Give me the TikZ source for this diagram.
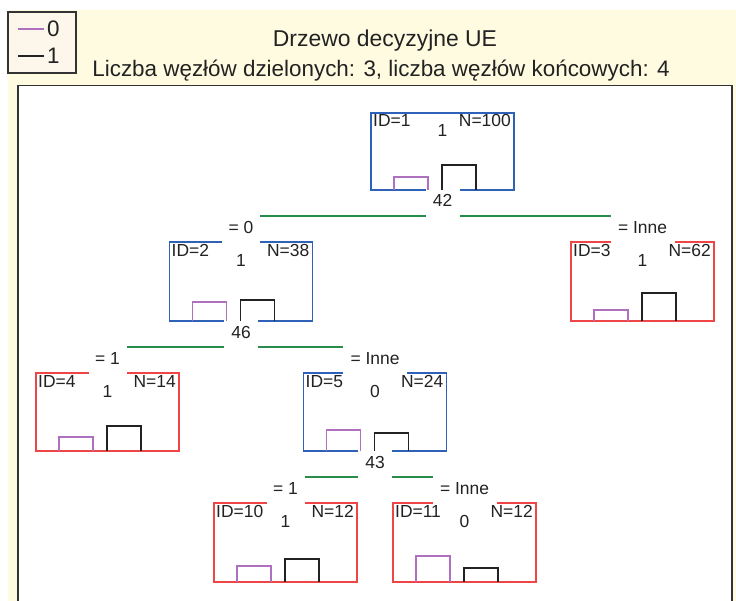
\documentclass[tikz,border=0pt]{standalone}
\usepackage{fontspec}
\setmainfont{Liberation Sans}
\usetikzlibrary{calc}
\definecolor{cream}{HTML}{FFFBE1}
\definecolor{legfill}{HTML}{FCF7EA}
\definecolor{nblue}{HTML}{2E62B8}
\definecolor{nred}{HTML}{EE4646}
\definecolor{npurple}{HTML}{B070C0}
\definecolor{ngreen}{HTML}{2A8C4C}
\definecolor{nblack}{HTML}{222222}
\definecolor{frame}{HTML}{333333}
\tikzset{
  boxline/.style={line width=1.5bp},
  bar0/.style={draw=npurple,line width=1.5bp},
  bar1/.style={draw=nblack,line width=1.5bp},
  split/.style={draw=ngreen,line width=1.5bp},
  txt/.style={font=\fontsize{17.5}{20}\selectfont,inner sep=0pt,text=nblack},
  bigtxt/.style={font=\fontsize{22.5}{26}\selectfont,inner sep=0pt,text=nblack},
  titletxt/.style={font=\fontsize{23}{26}\selectfont,inner sep=0pt,text=nblack},
}
\newcommand{\TreeBox}[9]{%
  \coordinate (#1) at (#2,{(#3+#4)/2});
  \coordinate (#1-nw) at (#2-71.5,#3);
  \coordinate (#1-ne) at (#2+71.5,#3);
  \coordinate (#1-n) at (#2,#3);
  \coordinate (#1-s) at (#2,#4);
  \coordinate (#1-tl) at (#2-#6,#3);
  \coordinate (#1-tr) at (#2+#6,#3);
  \coordinate (#1-bl) at (#2-#7,#4);
  \coordinate (#1-br) at (#2+#7,#4);
  \coordinate (#1-sp) at (#2,#4+26);
  \draw[boxline,draw=#5] (#1-tl) -- (#1-nw) |- (#1-bl);
  \draw[boxline,draw=#5] (#1-tr) -- (#1-ne) |- (#1-br);
  \draw[bar0] (#2-48.5,#4) -- (#2-48.5,#4-#8) -- (#2-14.5,#4-#8) -- (#2-14.5,#4);
  \draw[bar1] (#2-0.5,#4) -- (#2-0.5,#4-#9) -- (#2+33.5,#4-#9) -- (#2+33.5,#4);
}
\newcommand{\BoxTexts}[4]{%
  \node[txt,anchor=base west] (#1-id) at ([shift={(2,14)}]#1-nw) {#2};
  \node[txt,anchor=base east] (#1-N) at ([shift={(-3,14)}]#1-ne) {#3};
  \node[txt,anchor=base] (#1-c) at ([shift={(0,24)}]#1-n) {#4};
}
\begin{document}
\begin{tikzpicture}[x=1bp,y=-1bp]
\useasboundingbox (0,0) rectangle (736,601);
\fill[white] (0,0) rectangle (736,601);
\fill[cream] (8,10) rectangle (736,601);
% legend
\draw[fill=legfill,draw=frame,line width=1.2bp] (8,12) rectangle (76,73);
\coordinate (lg0a) at (18,29); \coordinate (lg0b) at (44,29);
\coordinate (lg1a) at (18,56); \coordinate (lg1b) at (44,56);
\draw[npurple,line width=1.2bp] (lg0a) -- (lg0b);
\draw[nblack,line width=1.2bp] (lg1a) -- (lg1b);
\node[bigtxt,anchor=west] (lg0) at ([xshift=3bp]lg0b) {0};
\node[bigtxt,anchor=west] (lg1) at ([xshift=3bp]lg1b) {1};
% titles
\node[titletxt,anchor=base] (title) at (385,47) {Drzewo decyzyjne UE};
\node[bigtxt,anchor=base] (subtitle) at (381,77) {Liczba węzłów dzielonych: 3, liczba węzłów końcowych: 4};
% panel
\fill[white] (18,85.5) rectangle (732,605);
\draw[frame,line width=1.5bp] (18,605) |- (732,85.5) -- (732,605);
% tree boxes
\TreeBox{n1}{442.5}{113}{190}{nblue}{0}{17}{13}{25}
\TreeBox{n2}{241}{242}{321}{nblue}{19}{17}{19}{21}
\TreeBox{n3}{642.5}{242}{321}{nred}{32}{0}{11}{28}
\TreeBox{n4}{107.5}{373}{451}{nred}{19}{0}{14}{25}
\TreeBox{n5}{375}{373}{451}{nblue}{32}{17}{21}{18}
\TreeBox{n10}{285.5}{503}{582}{nred}{19}{0}{16}{23}
\TreeBox{n11}{464.5}{503}{582}{nred}{32}{0}{26}{14}
\BoxTexts{n1}{ID=1}{N=100}{1}
\BoxTexts{n2}{ID=2}{N=38}{1}
\BoxTexts{n3}{ID=3}{N=62}{1}
\BoxTexts{n4}{ID=4}{N=14}{1}
\BoxTexts{n5}{ID=5}{N=24}{0}
\BoxTexts{n10}{ID=10}{N=12}{1}
\BoxTexts{n11}{ID=11}{N=12}{0}
% split values
\node[txt,anchor=base] (v1) at ([shift={(0,17)}]n1-s) {42};
\node[txt,anchor=base] (v2) at ([shift={(0,17)}]n2-s) {46};
\node[txt,anchor=base] (v5) at ([shift={(0,17)}]n5-s) {43};
% edge labels
\node[txt,anchor=base] (e2) at ([shift={(0,-9)}]n2-n) {= 0};
\node[txt,anchor=base] (e3) at ([shift={(0,-9)}]n3-n) {= Inne};
\node[txt,anchor=base] (e4) at ([shift={(0,-9)}]n4-n) {= 1};
\node[txt,anchor=base] (e5) at ([shift={(0,-9)}]n5-n) {= Inne};
\node[txt,anchor=base] (e10) at ([shift={(0,-9)}]n10-n) {= 1};
\node[txt,anchor=base] (e11) at ([shift={(0,-9)}]n11-n) {= Inne};
% split connectors
\draw[split] (n2-tr |- n1-sp) -- (n1-bl |- n1-sp);
\draw[split] (n1-br |- n1-sp) -- (n3-tl |- n1-sp);
\draw[split] (n4-tr |- n2-sp) -- (n2-bl |- n2-sp);
\draw[split] (n2-br |- n2-sp) -- (n5-tl |- n2-sp);
\draw[split] (n10-tr |- n5-sp) -- (n5-bl |- n5-sp);
\draw[split] (n5-br |- n5-sp) -- (n11-tl |- n5-sp);
\end{tikzpicture}
\end{document}
